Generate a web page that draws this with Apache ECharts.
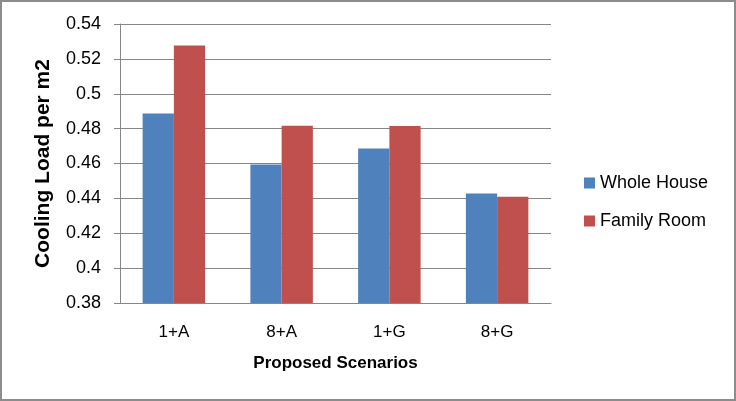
<!DOCTYPE html>
<html><head><meta charset="utf-8">
<script src="https://cdn.jsdelivr.net/npm/echarts@6/dist/echarts.min.js"></script>
<style>html,body{margin:0;padding:0;background:#fff}
#c{width:732px;height:397px;border:2px solid #8c8c8c;}</style>
</head><body><div id="c"></div>
<script>
var categories = ['1+A', '8+A', '1+G', '8+G'];
var wholeHouse = [0.4887, 0.4594, 0.4686, 0.4428];
var familyRoom = [0.5277, 0.4817, 0.4815, 0.4409];
var seriesNames = ['Whole House', 'Family Room'];
var yTicks = {min: 0.38, max: 0.54, interval: 0.02};

var font = 'Liberation Sans';
var chart = echarts.init(document.getElementById('c'));
chart.setOption({
  animation: false,
  textStyle: {fontFamily: font},
  grid: {left: 118, right: 183, top: 22, bottom: 96, containLabel: false},
  legend: {
    orient: 'vertical', left: 577, top: 167, itemWidth: 11, itemHeight: 11, itemGap: 20,
    textStyle: {fontSize: 18, color: '#000', fontFamily: font},
    icon: 'rect', data: seriesNames
  },
  xAxis: {
    type: 'category', data: categories,
    name: 'Proposed Scenarios', nameLocation: 'middle', nameGap: 52,
    nameTextStyle: {fontSize: 17, fontWeight: 'bold', color: '#000'},
    axisLine: {lineStyle: {color: '#868686'}},
    axisTick: {show: false},
    axisLabel: {fontSize: 17, color: '#000', margin: 21}
  },
  yAxis: {
    type: 'value', min: yTicks.min, max: yTicks.max, interval: yTicks.interval,
    name: 'Cooling Load per m2', nameLocation: 'middle', nameGap: 66,
    nameTextStyle: {fontSize: 21, fontWeight: 'bold', color: '#000'},
    axisLine: {show: true, lineStyle: {color: '#868686'}},
    axisTick: {show: true, length: 6, lineStyle: {color: '#868686'}},
    axisLabel: {fontSize: 18, color: '#000', margin: 19,
      formatter: function(v){ return String(parseFloat(v.toFixed(2))); }},
    splitLine: {lineStyle: {color: '#868686'}}
  },
  series: [
    {name: seriesNames[0], type: 'bar', data: wholeHouse, barGap: '0%', barCategoryGap: '42%',
     itemStyle: {color: '#4F81BD'}},
    {name: seriesNames[1], type: 'bar', data: familyRoom, barGap: '0%', barCategoryGap: '42%',
     itemStyle: {color: '#C0504D'}}
  ]
});
</script></body></html>
